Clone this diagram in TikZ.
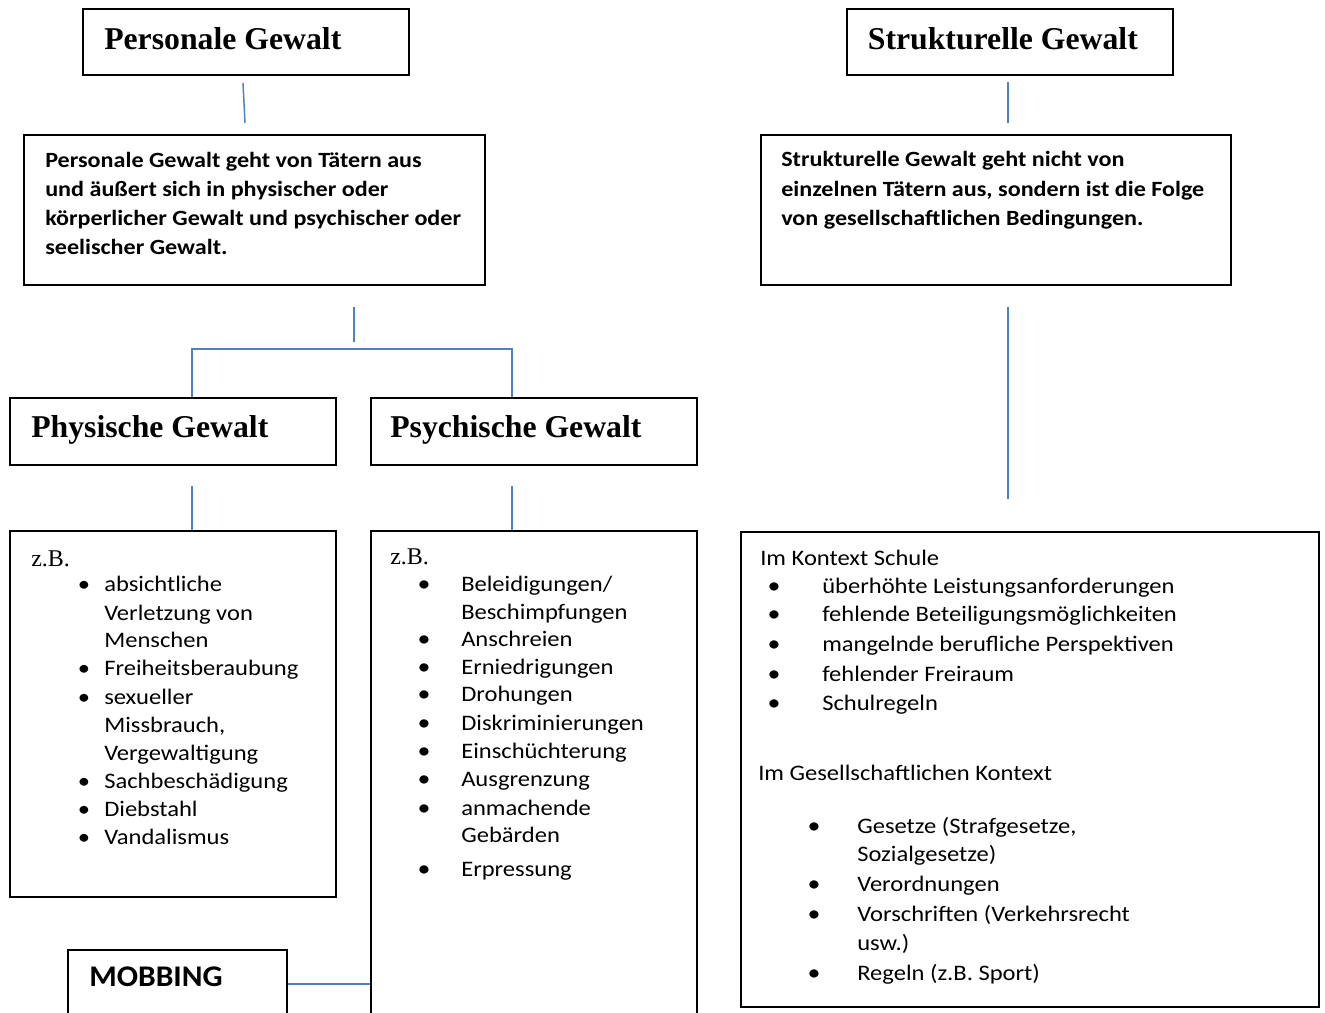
\documentclass[tikz,border=0pt]{standalone}
\usepackage{fontspec}
\setmainfont{Carlito}[FakeStretch=1.11]
\newfontfamily\mobfam{Carlito}[FakeStretch=1.05]
\newfontfamily\tms{Liberation Serif}
\usetikzlibrary{calc}
\definecolor{conn}{RGB}{79,129,189}
\newcommand\hdfont{\tms\bfseries\fontsize{23.8}{28}\selectfont}
\newcommand\zbfont{\tms\fontsize{18}{22}\selectfont}
\newcommand\dsfont{\bfseries\fontsize{16.3}{20}\selectfont}
\newcommand\lsfont{\fontsize{16.6}{20}\selectfont}
\newcommand\bbfont{\fontsize{17.5}{20}\selectfont}
\newcommand\mbfont{\mobfam\bfseries\fontsize{22.5}{27}\selectfont}
\tikzset{
  box/.style={draw=black, line width=1.5pt, rectangle, inner sep=0pt},
  link/.style={draw=conn, line width=1.1pt},
  hd/.style={anchor=base west, inner sep=0pt, font=\hdfont},
  ds/.style={anchor=base west, inner sep=0pt, font=\dsfont},
  ls/.style={anchor=base west, inner sep=0pt, font=\lsfont},
  zb/.style={anchor=base west, inner sep=0pt, font=\zbfont},
  bul/.style={anchor=base, inner sep=0pt, font=\lsfont},
  bulb/.style={anchor=base, inner sep=0pt, font=\bbfont},
}
\begin{document}
\begin{tikzpicture}[x=0.75pt,y=-0.75pt]
\useasboundingbox (0,0) rectangle (1325,1013);
\clip (0,0) rectangle (1325,1013);
\fill[white] (0,0) rectangle (1325,1013);
% boxes
\node[box, minimum width=244.5pt, minimum height=49.5pt] (hp) at (246,42) {};
\node[box, minimum width=244.5pt, minimum height=49.5pt] (hs) at (1010,42) {};
\node[box, minimum width=345.75pt, minimum height=112.5pt] (dp) at (254.5,210) {};
\node[box, minimum width=352.5pt, minimum height=112.5pt] (dsx) at (996,210) {};
\node[box, minimum width=244.5pt, minimum height=50.25pt] (phy) at (173,431.5) {};
\node[box, minimum width=244.5pt, minimum height=50.25pt] (psy) at (534,431.5) {};
\node[box, minimum width=244.5pt, minimum height=274.5pt] (lphy) at (173,714) {};
\node[box, minimum width=244.5pt, minimum height=381.75pt] (lpsy) at (534,785.5) {};
\node[box, minimum width=164.25pt, minimum height=67.5pt] (mob) at (177.5,995) {};
\node[box, minimum width=433.5pt, minimum height=356.25pt] (lstr) at (1030,769.5) {};
% connectors
\draw[link] ($(hp.south)+(-3,7)$) -- ($(dp.north)+(-9.5,-11)$);
\draw[link] ($(hs.south)+(-2,6)$) -- ($(dsx.north)+(12,-11)$);
\draw[link] ($(dp.south)+(99.5,21)$) -- ($(dp.south)+(99.5,56)$);
\coordinate (sl) at ($(phy.north)+(19,-48)$);
\coordinate (sr) at ($(psy.north)+(-22,-48)$);
\draw[link] ($(phy.north)+(19,0)$) -- (sl) -- (sr) -- ($(psy.north)+(-22,0)$);
\draw[link] ($(phy.south)+(19,20)$) -- ($(lphy.north)+(19,0)$);
\draw[link] ($(psy.south)+(-22,20)$) -- ($(lpsy.north)+(-22,0)$);
\draw[link] ($(mob.east)+(0,-11)$) coordinate (m1) -- (m1 -| lpsy.west);
\draw[link] ($(dsx.south)+(12,21)$) -- ($(lstr.north)+(-22,-32)$);
% headers
\node[hd] (t1) at (104,49.3) {Personale Gewalt};
\node[hd] (t2) at (867.6,49.3) {Strukturelle Gewalt};
\node[hd] (t3) at (31,437.3) {Physische Gewalt};
\node[hd] (t4) at (390,437.3) {Psychische Gewalt};
% descriptions
\node[ds] (d1) at (45,167.7) {Personale Gewalt geht von Tätern aus};
\node[ds] (d2) at (45,196.7) {und äußert sich in physischer oder};
\node[ds] (d3) at (45,226) {körperlicher Gewalt und psychischer oder};
\node[ds] (d4) at (45,255) {seelischer Gewalt.};
\node[ds] (e1) at (781,166.7) {Strukturelle Gewalt geht nicht von};
\node[ds] (e2) at (781,196.7) {einzelnen Tätern aus, sondern ist die Folge};
\node[ds] (e3) at (781,226) {von gesellschaftlichen Bedingungen.};
% physische list
\node[zb] (z1) at (31,566) {z.B.};
\node[bul] (b1) at (84,591.7) {•};
\node[ls] (p1) at (104,591.7) {absichtliche};
\node[ls] (p2) at (104,620) {Verletzung von};
\node[ls] (p3) at (104,647.7) {Menschen};
\node[bul] (b2) at (84,675.7) {•};
\node[ls] (p4) at (104,675.7) {Freiheitsberaubung};
\node[bul] (b3) at (84,704) {•};
\node[ls] (p5) at (104,704) {sexueller};
\node[ls] (p6) at (104,732) {Missbrauch,};
\node[ls] (p7) at (104,760) {Vergewaltigung};
\node[bul] (b4) at (84,788) {•};
\node[ls] (p8) at (104,788) {Sachbeschädigung};
\node[bul] (b5) at (84,816.7) {•};
\node[ls] (p9) at (104,816.7) {Diebstahl};
\node[bul] (b6) at (84,844.3) {•};
\node[ls] (p10) at (104,844.3) {Vandalismus};
% psychische list
\node[zb] (z2) at (390,564) {z.B.};
\node[bulb] (c1) at (424,591.7) {•};
\node[ls] (q1) at (461,591.7) {Beleidigungen/};
\node[ls] (q2) at (461,619) {Beschimpfungen};
\node[bulb] (c2) at (424,646.7) {•};
\node[ls] (q3) at (461,646.7) {Anschreien};
\node[bulb] (c3) at (424,674) {•};
\node[ls] (q4) at (461,674) {Erniedrigungen};
\node[bulb] (c4) at (424,701.7) {•};
\node[ls] (q5) at (461,701.7) {Drohungen};
\node[bulb] (c5) at (424,730) {•};
\node[ls] (q6) at (461,730) {Diskriminierungen};
\node[bulb] (c6) at (424,758) {•};
\node[ls] (q7) at (461,758) {Einschüchterung};
\node[bulb] (c7) at (424,786) {•};
\node[ls] (q8) at (461,786) {Ausgrenzung};
\node[bulb] (c8) at (424,815) {•};
\node[ls] (q9) at (461,815) {anmachende};
\node[ls] (q10) at (461,842.7) {Gebärden};
\node[bulb] (c9) at (424,876.7) {•};
\node[ls] (q11) at (461,876.7) {Erpressung};
% strukturelle list
\node[ls] (s0) at (760,565) {Im Kontext Schule};
\node[bulb] (f1) at (774,593.3) {•};
\node[ls] (s1) at (822,593.3) {überhöhte Leistungsanforderungen};
\node[bulb] (f2) at (774,621.7) {•};
\node[ls] (s2) at (822,621.7) {fehlende Beteiligungsmöglichkeiten};
\node[bulb] (f3) at (774,651.7) {•};
\node[ls] (s3) at (822,651.7) {mangelnde berufliche Perspektiven};
\node[bulb] (f4) at (774,681.7) {•};
\node[ls] (s4) at (822,681.7) {fehlender Freiraum};
\node[bulb] (f5) at (774,710.7) {•};
\node[ls] (s5) at (822,710.7) {Schulregeln};
\node[ls] (g0) at (758,780.7) {Im Gesellschaftlichen Kontext};
\node[bulb] (h1) at (814,833.3) {•};
\node[ls] (g1) at (857,833.3) {Gesetze (Strafgesetze,};
\node[ls] (g2) at (857,861.7) {Sozialgesetze)};
\node[bulb] (h2) at (814,891.7) {•};
\node[ls] (g3) at (857,891.7) {Verordnungen};
\node[bulb] (h3) at (814,921.7) {•};
\node[ls] (g4) at (857,921.7) {Vorschriften (Verkehrsrecht};
\node[ls] (g5) at (857,950) {usw.)};
\node[bulb] (h4) at (814,980) {•};
\node[ls] (g6) at (857,980) {Regeln (z.B. Sport)};
% mobbing
\node[anchor=base west, inner sep=0pt, font=\mbfont] (mt) at (89,986) {MOBBING};
\end{tikzpicture}
\end{document}
